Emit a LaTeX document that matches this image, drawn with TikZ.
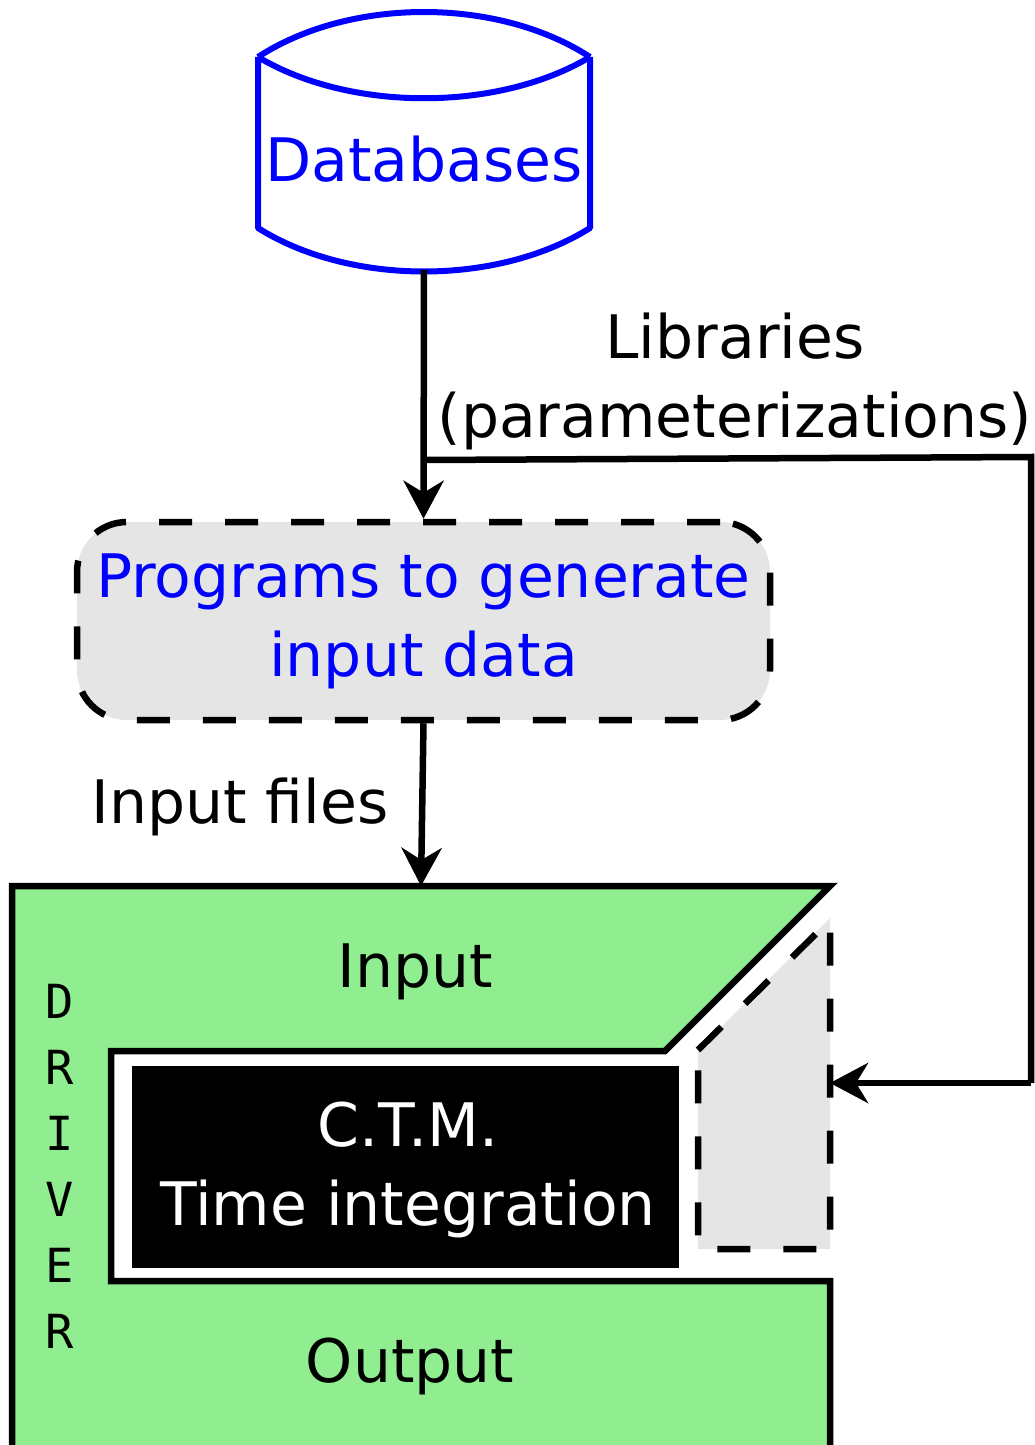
\documentclass[tikz,border=0pt]{standalone}
\usepackage{fontspec}
\setmainfont{DejaVu Sans}
\newfontfamily\drvfont{DejaVu Sans Mono}
\usetikzlibrary{arrows.meta}
\definecolor{dbblue}{RGB}{0,0,255}
\definecolor{boxgray}{RGB}{229,229,229}
\definecolor{drvgreen}{RGB}{144,238,144}
\tikzset{
  big/.style={font=\fontsize{60}{79}\selectfont, inner sep=0pt, align=center},
  flow/.style={line width=6.5pt, -{Stealth[length=38pt,width=40pt,inset=12pt]}},
  dbline/.style={draw=dbblue, line width=6pt},
  dashbox/.style={draw=black, line width=6.5pt, dash pattern=on 33pt off 33pt},
}
\begin{document}
\begin{tikzpicture}[x=1pt, y=-1pt]
\useasboundingbox (0,0) rectangle (1035,1445);

% database symbol with curved top and bottom
\draw[dbline, line join=round]
  (258,57) .. controls (350,-3) and (498,-3) .. (590,57)
  (258,57) .. controls (350,112) and (498,112) .. (590,57)
  (258,57) -- (258,228) .. controls (350,286) and (498,286) .. (590,228) -- (590,57);
\node[big, text=dbblue] (db) at (424,159.5) {Databases};
\coordinate (dbbot) at (424,270);

% generating programs
\node[big, text=dbblue, dashbox, fill=boxgray, rounded corners=50pt,
      minimum width=693pt, minimum height=198pt] (prog) at (423.5,621)
      {Programs to generate\\input data};

% driver block
\draw[line width=6.5pt, fill=drvgreen]
  (12,886) -- (830,886) -- (665,1051) -- (111,1051) -- (111,1281)
  -- (830,1281) -- (830,1452) -- (12,1452) -- cycle;
\coordinate (drvtop) at (421,886);

% plug-in slot for libraries
\fill[boxgray] (698,1050) -- (830,918) -- (830,1249) -- (698,1249) -- cycle;
\draw[dashbox] (698,1050) -- (830,920) -- (830,1249) -- (698,1249) -- cycle;
\coordinate (slot) at (830,1083);

% model core
\node[big, fill=black, text=white, minimum width=547pt, minimum height=202pt]
  (ctm) at (405.5,1167) {};
\node[big, text=white] (ctmtxt) at (408,1169.5) {C.T.M.\\Time integration};

\node[big] (inp) at (415,971.5) {Input};
\node[big] (outp) at (410,1366.5) {Output};
\node[font=\drvfont\fontsize{47}{66}\selectfont, inner sep=0pt, align=center]
  (drv) at (60,1166) {D\\R\\I\\V\\E\\R};

% connectors
\coordinate (br) at (424,460);
\coordinate (rc) at (1031,457);
\draw[flow] (dbbot) -- (prog.north);
\draw[flow, -, line join=miter] (br) -- (rc) -- (1031,1083);
\draw[flow] (1031,1083) -- (slot);
\draw[flow] (prog.south) -- (drvtop);

% labels
\node[big] (lib) at (735,381) {Libraries\\(parameterizations)};
\node[big] (inf) at (240,806.5) {Input files};
\end{tikzpicture}
\end{document}
